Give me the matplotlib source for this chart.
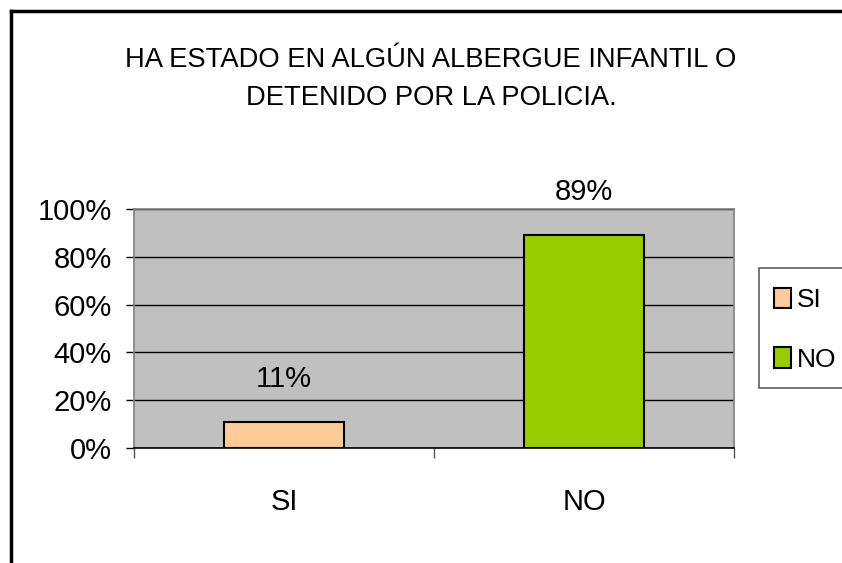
import matplotlib
matplotlib.use("Agg")
import matplotlib.pyplot as plt
from matplotlib.lines import Line2D
from matplotlib.patches import Patch, Rectangle

categories = ["SI", "NO"]
values = [11, 89]
bar_colors = ["#FFCC99", "#99CC00"]
title = "HA ESTADO EN ALGÚN ALBERGUE INFANTIL O\nDETENIDO POR LA POLICIA."
y_ticks = [0, 20, 40, 60, 80, 100]

plt.rcParams["font.family"] = ["Liberation Sans", "DejaVu Sans"]
FS = 21

W, H = 842, 563
fig = plt.figure(figsize=(W / 100, H / 100), dpi=100)
ax = fig.add_axes([134 / W, 1 - 448 / H, 600 / W, 239 / H])
ax.set_facecolor("#C0C0C0")

x = list(range(len(categories)))
bars = ax.bar(x, values, width=0.4, color=bar_colors, edgecolor="black",
              linewidth=1.5, zorder=3)
for b, v in zip(bars, values):
    ax.annotate(f"{v}%", (b.get_x() + b.get_width() / 2, v),
                xytext=(0, 31), textcoords="offset points",
                ha="center", va="center", fontsize=FS)

ax.set_xlim(-0.5, len(categories) - 0.5)
ax.set_ylim(0, 100)
ax.set_yticks(y_ticks)
ax.set_yticklabels([f"{t}%" for t in y_ticks], fontsize=FS)
ax.yaxis.grid(True, color="black", linewidth=1, zorder=1)
ax.set_axisbelow(True)

ax.set_xticks(x)
ax.set_xticklabels(categories, fontsize=FS)
ax.set_xticks([-0.5, 0.5, 1.5], minor=True)
ax.tick_params(axis="x", which="major", length=0, pad=29)
ax.tick_params(axis="x", which="minor", length=7, width=1, color="#555555")
ax.tick_params(axis="y", length=6, width=1, pad=10)

for side in ["top", "right", "left"]:
    ax.spines[side].set_color("#808080")
    ax.spines[side].set_linewidth(1.2)
ax.spines["bottom"].set_color("black")
ax.spines["bottom"].set_linewidth(1.2)

fig.text(431 / W, 1 - 79 / H, title, ha="center", va="center",
         fontsize=19.7, linespacing=1.6)

# legend box
fig.patches.append(Rectangle((759 / W, 1 - 388 / H), 100 / W, 120 / H,
                             transform=fig.transFigure, facecolor="white",
                             edgecolor="#606060", linewidth=1.2))
handles = [Patch(facecolor=c, edgecolor="black", linewidth=1.5) for c in bar_colors]
fig.legend(handles, categories, loc="upper left",
           bbox_to_anchor=(763 / W, 1 - 277 / H), frameon=False,
           fontsize=19, handlelength=0.65, handleheight=0.8,
           handletextpad=0.25, labelspacing=1.35, borderaxespad=0)

# outer frame (top and left edges visible)
fig.add_artist(Line2D([11 / W, 1], [1 - 11 / H, 1 - 11 / H],
                      transform=fig.transFigure, color="black", linewidth=2.5))
fig.add_artist(Line2D([11 / W, 11 / W], [1 - 11 / H, 0],
                      transform=fig.transFigure, color="black", linewidth=2.5))

fig.savefig("out.png", dpi=100)
